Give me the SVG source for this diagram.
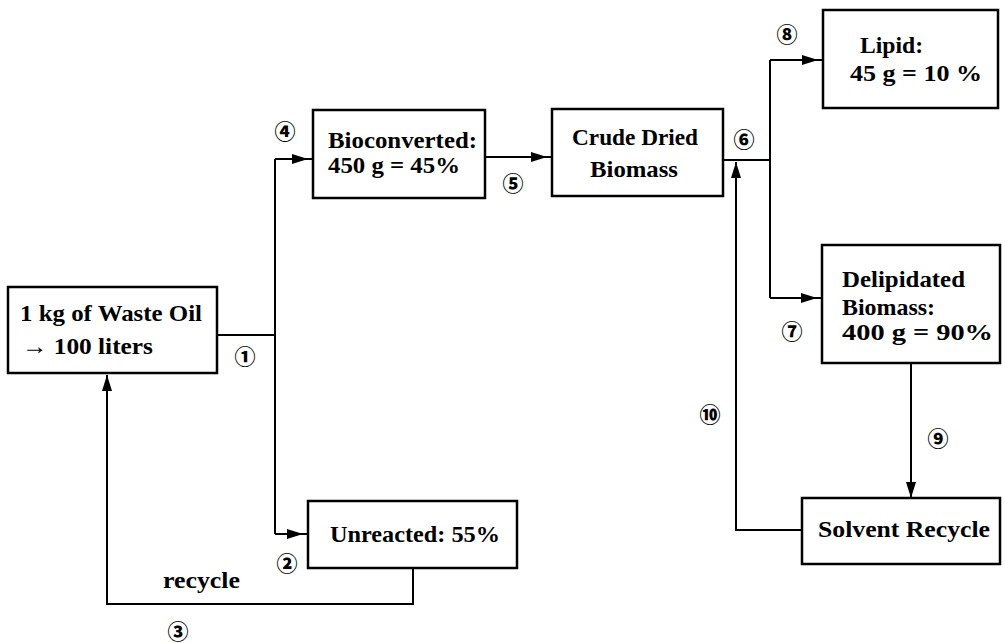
<svg xmlns="http://www.w3.org/2000/svg" width="1005" height="643" viewBox="0 0 1005 643">
<style>
.box{fill:#fff;stroke:#000;stroke-width:2.5}
.t{font-family:"Liberation Serif","Times New Roman",serif;font-size:24px;font-weight:bold;fill:#000}
.n{font-family:"Noto Sans CJK JP","DejaVu Sans",sans-serif;font-size:21px;font-weight:900;fill:#000;text-anchor:middle;dominant-baseline:central}
.c{fill:none;stroke:#000;stroke-width:2}
</style>
<defs>
<marker id="arr" markerUnits="userSpaceOnUse" markerWidth="24" markerHeight="10" refX="21" refY="5" orient="auto"><path d="M0,0 L16,5 L0,10 z" fill="#000"/></marker>
<marker id="arrT" markerUnits="userSpaceOnUse" markerWidth="16" markerHeight="10" refX="16" refY="5" orient="auto"><path d="M0,0 L16,5 L0,10 z" fill="#000"/></marker>
</defs>
<rect width="1005" height="643" fill="#fff"/>
<g id="connectors">
<path class="c" d="M217,335 H275"/>
<path class="c" d="M275,159 V534"/>
<path class="c" d="M275,159 H313" marker-end="url(#arr)"/>
<path class="c" d="M275,534 H308" marker-end="url(#arr)"/>
<path class="c" d="M485,157 H552" marker-end="url(#arr)"/>
<path class="c" d="M723,160 H770"/>
<path class="c" d="M770,60 V298"/>
<path class="c" d="M770,60 H823" marker-end="url(#arr)"/>
<path class="c" d="M770,298 H822" marker-end="url(#arr)"/>
<path class="c" d="M911,363 V498" marker-end="url(#arrT)"/>
<path class="c" d="M802,530 H736 V162" marker-end="url(#arrT)"/>
<path class="c" d="M413,568 V604 H107 V375" marker-end="url(#arrT)"/>
<text class="t" x="163" y="588" textLength="77" lengthAdjust="spacingAndGlyphs">recycle</text>
<text class="n" x="245" y="355">①</text>
<text class="n" x="287" y="562">②</text>
<text class="n" x="178" y="630">③</text>
<text class="n" x="285" y="130">④</text>
<text class="n" x="513" y="182">⑤</text>
<text class="n" x="744" y="138">⑥</text>
<text class="n" x="792" y="330">⑦</text>
<text class="n" x="787" y="33">⑧</text>
<text class="n" x="938" y="437">⑨</text>
<text class="n" x="710" y="413">⑩</text>
</g>
<g id="waste-oil">
<rect class="box" x="8" y="287" width="209" height="86"/>
<text class="t" x="20" y="321" textLength="182" lengthAdjust="spacingAndGlyphs">1 kg of Waste Oil</text>
<text class="t" x="22" y="354" textLength="131" lengthAdjust="spacingAndGlyphs">→ 100 liters</text>
</g>
<g id="bioconverted">
<rect class="box" x="313" y="110" width="172" height="88"/>
<text class="t" x="328" y="148" textLength="149" lengthAdjust="spacingAndGlyphs">Bioconverted:</text>
<text class="t" x="328" y="173" textLength="132" lengthAdjust="spacingAndGlyphs">450 g = 45%</text>
</g>
<g id="crude">
<rect class="box" x="552" y="109" width="171" height="87"/>
<text class="t" x="572" y="145" textLength="126" lengthAdjust="spacingAndGlyphs">Crude Dried</text>
<text class="t" x="590" y="177" textLength="88" lengthAdjust="spacingAndGlyphs">Biomass</text>
</g>
<g id="lipid">
<rect class="box" x="823" y="10" width="175" height="98"/>
<text class="t" x="860" y="53" textLength="63" lengthAdjust="spacingAndGlyphs">Lipid:</text>
<text class="t" x="850" y="81" textLength="132" lengthAdjust="spacingAndGlyphs">45 g = 10 %</text>
</g>
<g id="delipidated">
<rect class="box" x="822" y="245" width="178" height="118"/>
<text class="t" x="842" y="287" textLength="123" lengthAdjust="spacingAndGlyphs">Delipidated</text>
<text class="t" x="842" y="315" textLength="93" lengthAdjust="spacingAndGlyphs">Biomass:</text>
<text class="t" x="842" y="340" textLength="151" lengthAdjust="spacingAndGlyphs">400 g = 90%</text>
</g>
<g id="unreacted">
<rect class="box" x="308" y="501" width="209" height="67"/>
<text class="t" x="330" y="542" textLength="170" lengthAdjust="spacingAndGlyphs">Unreacted: 55%</text>
</g>
<g id="solvent">
<rect class="box" x="802" y="498" width="198" height="66"/>
<text class="t" x="818" y="537" textLength="172" lengthAdjust="spacingAndGlyphs">Solvent Recycle</text>
</g>
</svg>
